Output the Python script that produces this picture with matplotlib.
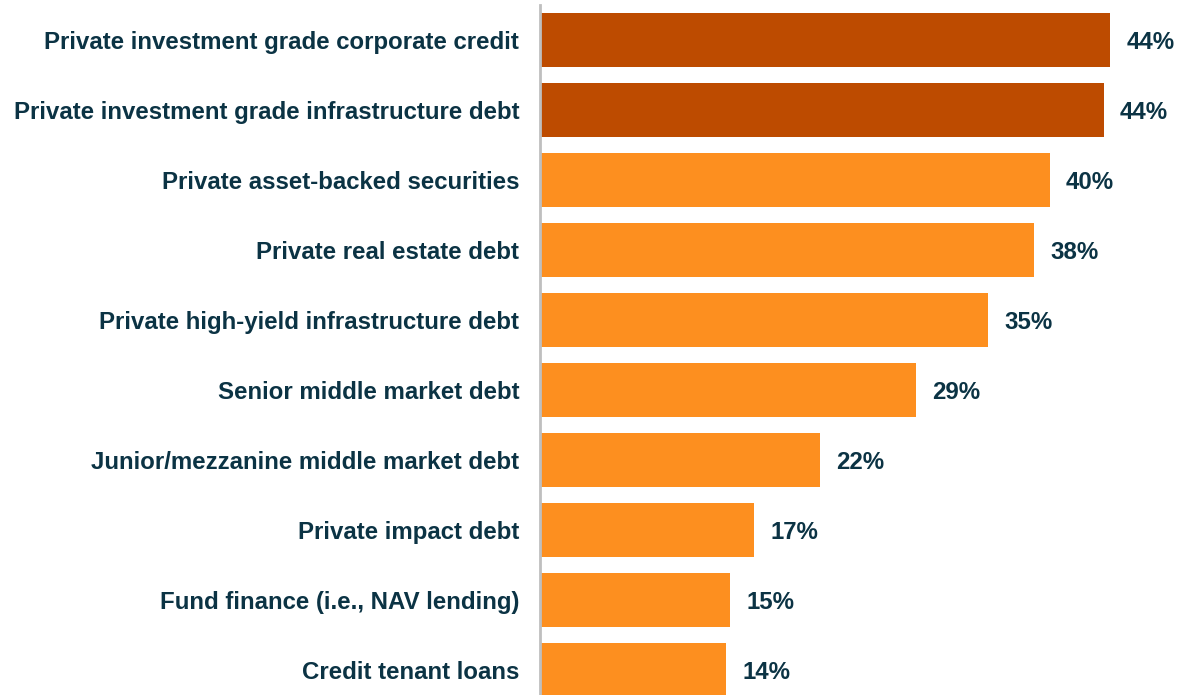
import matplotlib.pyplot as plt

# Share of respondents per private credit segment
categories = [
    "Private investment grade corporate credit",
    "Private investment grade infrastructure debt",
    "Private asset-backed securities",
    "Private real estate debt",
    "Private high-yield infrastructure debt",
    "Senior middle market debt",
    "Junior/mezzanine middle market debt",
    "Private impact debt",
    "Fund finance (i.e., NAV lending)",
    "Credit tenant loans",
]
values = [44.4, 43.9, 39.7, 38.5, 34.9, 29.3, 21.8, 16.7, 14.8, 14.5]
highlight = [True, True, False, False, False, False, False, False, False, False]

DARK = "#BD4B00"
LIGHT = "#FD8F1F"
TEXT = "#0B3344"

plt.rcParams["font.family"] = ["Liberation Sans", "DejaVu Sans"]

fig = plt.figure(figsize=(11.93, 6.95), dpi=100)
ax = fig.add_axes([540 / 1193, 0, (1182 - 540) / 1193, 690 / 695])

ypos = list(range(len(categories)))
colors = [DARK if h else LIGHT for h in highlight]
bars = ax.barh(ypos, values, height=0.76, color=colors, edgecolor="none")

for bar, v in zip(bars, values):
    ax.text(bar.get_width() + 1.25, bar.get_y() + bar.get_height() / 2,
            f"{v:.0f}%", va="center_baseline", ha="left", fontsize=17.3,
            fontweight="bold", color=TEXT)

ax.set_xlim(0, 50)
ax.set_ylim(9.357, -0.5)
ax.set_yticks(ypos)
ax.set_yticklabels(categories, fontsize=17.3, fontweight="bold", color=TEXT,
                   va="center_baseline")
ax.tick_params(axis="y", length=0, pad=15)
ax.set_xticks([])

for side in ["top", "right", "bottom"]:
    ax.spines[side].set_visible(False)
ax.spines["left"].set_color("#BFBFBF")
ax.spines["left"].set_linewidth(2)

fig.savefig("out.png", dpi=100)
